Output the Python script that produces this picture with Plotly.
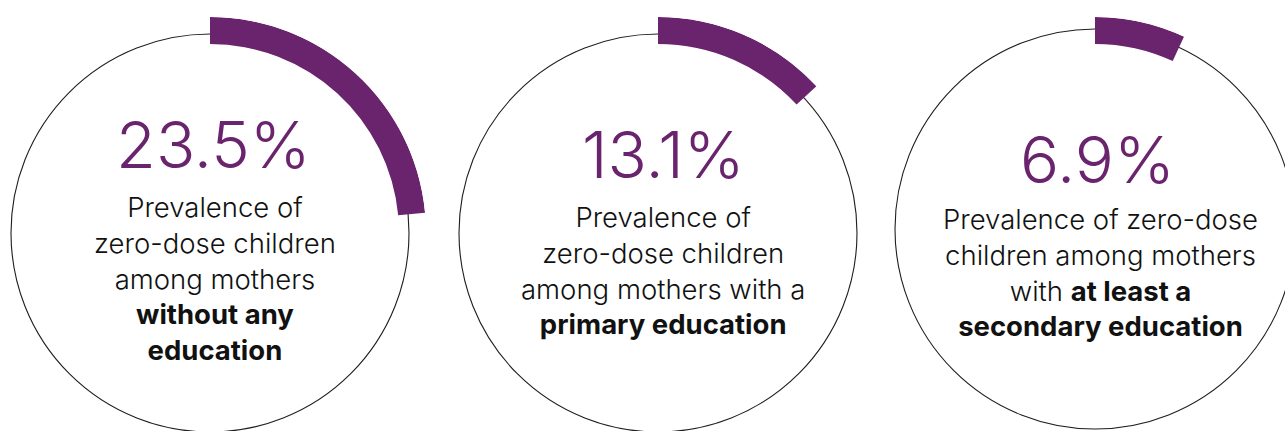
import plotly.graph_objects as go

# ---- data ----
values = [23.5, 13.1, 6.9]          # prevalence of zero-dose children (%)
value_labels = ["23.5%", "13.1%", "6.9%"]
descriptions = [
    "Prevalence of<br>zero-dose children<br>among mothers<br><b>without any</b><br><b>education</b>",
    "Prevalence of<br>zero-dose children<br>among mothers with a<br><b>primary education</b>",
    "Prevalence of zero-dose<br>children among mothers<br>with <b>at least a</b><br><b>secondary education</b>",
]

# ---- layout / styling (pixels) ----
W, H = 1285, 431
PURPLE = "#6A236D"
FONT = "Inter"
centers_x = [210, 658, 1095]
centers_y = [233, 233, 229]
ring_r = [199, 199, 200]
arc_inner = [189, 189, 185]
arc_outer = [216, 216, 212]
sector_start = [0, 0, 30]            # visible quadrant part of each polar (screen degrees)
number_cx = [213, 663, 1097]
number_cy = [145, 154, 159]
text_cx = [215, 663, 1100]
text_cy = [278, 270, 272.5]

fig = go.Figure()

for i, v in enumerate(values):
    pid = "polar" if i == 0 else f"polar{i+1}"
    cx, cy, R = centers_x[i], centers_y[i], arc_outer[i]
    s0 = sector_start[i]
    # the thin 100% circle (track)
    fig.add_shape(
        type="circle", xref="paper", yref="paper", layer="below",
        x0=(cx - ring_r[i]) / W, x1=(cx + ring_r[i]) / W,
        y0=(H - cy - ring_r[i]) / H, y1=(H - cy + ring_r[i]) / H,
        line=dict(color="#1e1e1e", width=1.1),
    )
    # value arc
    fig.add_trace(go.Barpolar(
        theta=[v * 3.6 / 2], width=[v * 3.6],
        base=[arc_inner[i]], r=[arc_outer[i] - arc_inner[i]],
        marker=dict(color=PURPLE, line=dict(width=0)),
        subplot=pid, hoverinfo="skip", showlegend=False,
    ))
    # polar subplot covering the upper-right part of the circle; 1 radial unit = 1 px
    import math
    xw = max(math.cos(math.radians(s0)), 0)
    fig.layout[pid] = dict(
        domain=dict(x=[cx / W, (cx + xw * R) / W],
                    y=[(H - cy) / H, (H - cy + R) / H]),
        sector=[s0, 90],
        bgcolor="rgba(0,0,0,0)",
        barmode="overlay",
        radialaxis=dict(range=[0, R], visible=False),
        angularaxis=dict(rotation=90, direction="clockwise", visible=False),
    )
    fig.add_annotation(
        x=number_cx[i] / W, y=1 - number_cy[i] / H, xref="paper", yref="paper",
        xanchor="center", yanchor="middle", showarrow=False,
        text=value_labels[i],
        font=dict(family=FONT, size=65, color=PURPLE, weight=300),
    )
    fig.add_annotation(
        x=text_cx[i] / W, y=1 - text_cy[i] / H, xref="paper", yref="paper",
        xanchor="center", yanchor="middle", align="center", showarrow=False,
        text=descriptions[i],
        font=dict(family=FONT, size=27.5, color="#111111", weight=300),
    )

fig.update_layout(
    width=W, height=H, margin=dict(l=0, r=0, t=0, b=0),
    paper_bgcolor="white", plot_bgcolor="white", showlegend=False,
)
fig.write_html("out.html")
